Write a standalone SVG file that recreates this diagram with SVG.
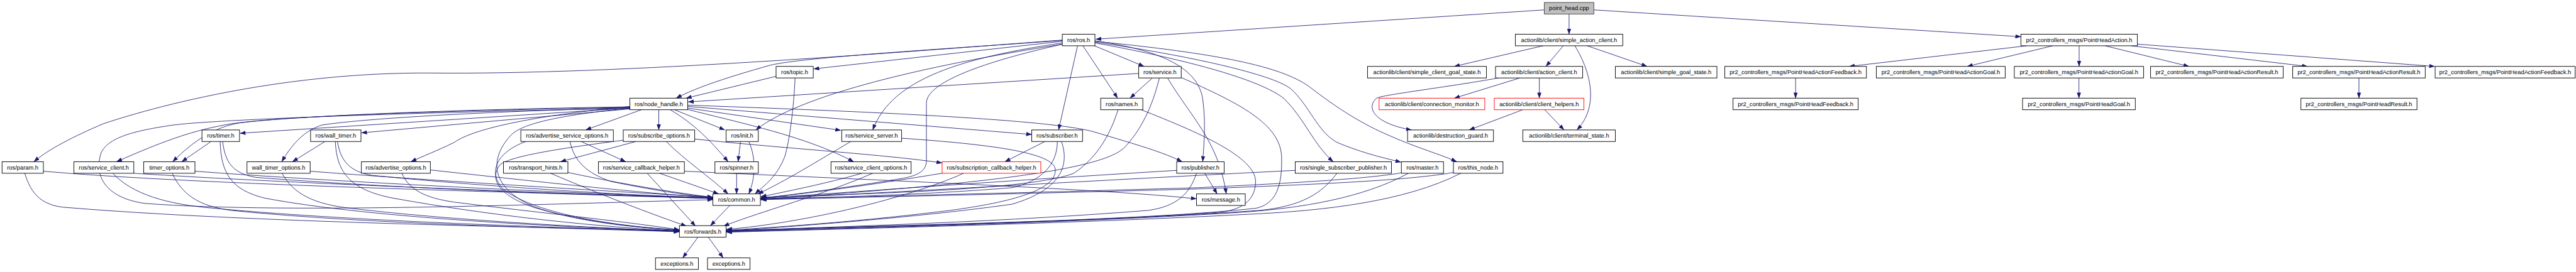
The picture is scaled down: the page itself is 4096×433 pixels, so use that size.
<svg xmlns="http://www.w3.org/2000/svg" width="4096" height="433" viewBox="0 0 4096 433">
<style>
.node rect{fill:#ffffff;stroke:#000000;stroke-width:1.4}
.node.red rect{stroke:#ff0000}
.node.root rect{fill:#bfbfbf;stroke:#404040}
.node text{font-family:"Liberation Sans",Arial,sans-serif;font-size:14.2px;fill:#000000;text-anchor:middle}
.edges path{fill:none;stroke:#191970;stroke-width:1.3;marker-end:url(#arr)}
</style>
<defs>
<marker id="arr" markerUnits="userSpaceOnUse" viewBox="0 0 14 10" markerWidth="14" markerHeight="10" refX="13.5" refY="5" orient="auto">
<path d="M0,0 L14,5 L0,10 z" fill="#191970"/>
</marker>
</defs>
<rect width="4096" height="433" fill="#ffffff"/>
<g transform="scale(0.656726)">
<g id="edges" class="edges">
<path d="M3739,24 L2653,95"/>
<path d="M3799,34 L3799,83"/>
<path d="M3859,24 L4893,89"/>
<path d="M3736,111 L3521,161"/>
<path d="M3785,111 L3743,161"/>
<path d="M3813,111 C3855,180 3870,260 3818,315"/>
<path d="M3843,111 L3988,161"/>
<path d="M3628,189 C3500,212 3345,230 3333,238 C3305,262 3330,300 3418,315"/>
<path d="M3680,189 L3521,238"/>
<path d="M3727,189 L3727,238"/>
<path d="M3687,266 L3557,315"/>
<path d="M3740,266 L3787,315"/>
<path d="M4907,111 L4477,161"/>
<path d="M4970,111 L4763,161"/>
<path d="M5034,111 L5034,161"/>
<path d="M5097,111 L5300,161"/>
<path d="M5160,111 L5587,161"/>
<path d="M5175,107 L5895,161"/>
<path d="M4347.5,189 L4347.5,238"/>
<path d="M5033.5,189 L5033.5,238"/>
<path d="M5711.5,189 L5711.5,238"/>
<path d="M2650,111 L2770,161"/>
<path d="M2622,111 L2706,238"/>
<path d="M2609,111 L2563,315"/>
<path d="M2573,104 C2330,140 2160,190 2113,315"/>
<path d="M2573,107 C2380,150 2243,200 2243,250 L2243,390 C2243,418 2215,428 2175,434 C2050,455 1900,474 1842,481"/>
<path d="M2573,107 C2300,150 1950,220 1830,315"/>
<path d="M2573,100 L1970,167"/>
<path d="M2573,98 C2300,118 1950,138 1865,158 C1770,185 1690,210 1637,238"/>
<path d="M2573,97 C2200,125 1500,182 1040,177 C700,175 400,250 250,300 C180,330 120,360 82,392"/>
<path d="M2651,99 C2800,120 2900,160 2912,240 C2920,300 2915,350 2912,392"/>
<path d="M2651,104 C2850,140 3050,190 3110,240 C3160,290 3180,350 3228,392"/>
<path d="M2651,102 C2880,135 3080,180 3125,215 C3170,255 3190,320 3237,345 C3300,372 3360,385 3392,393"/>
<path d="M2651,100 C2950,130 3100,160 3170,210 C3260,280 3320,310 3367,330 C3430,358 3490,375 3527,392"/>
<path d="M1879,185 L1661,238"/>
<path d="M1925,189 C1922,260 1912,340 1900,380 C1880,430 1850,450 1828,470"/>
<path d="M2757,178 L1666,247"/>
<path d="M2790,189 L2736,238"/>
<path d="M2827,189 C2880,280 2950,340 2969,470"/>
<path d="M2807,189 C2790,260 2760,320 2720,360 C2650,420 2300,450 1842,484"/>
<path d="M2860,188 C3000,250 3100,300 3103,380 C3105,450 3090,495 3040,505 C2700,540 2100,545 1759,561"/>
<path d="M2707,266 C2690,320 2660,380 2600,420 C2500,460 2100,470 1842,478"/>
<path d="M2763,266 C2900,320 3040,380 3040,440 C3040,490 3000,510 2950,515 C2600,540 2100,548 1759,559"/>
<path d="M1553,266 L1418,315"/>
<path d="M1595,266 L1595,315"/>
<path d="M1633,266 L1755,315"/>
<path d="M1623,266 C1680,300 1720,340 1763,392"/>
<path d="M1660,264 C1800,300 1950,330 2067,392"/>
<path d="M1665,262 L2036,316"/>
<path d="M1665,258 L2498,326"/>
<path d="M1665,255 C2100,270 2550,290 2650,320 C2750,350 2820,370 2862,392"/>
<path d="M1525,258 C1300,280 1150,310 1100,345 C1060,365 1020,380 995,392"/>
<path d="M1525,262 C1350,280 1260,300 1235,330 C1190,380 1180,450 1290,500 C1400,540 1550,552 1645,558"/>
<path d="M1525,262 L581,323"/>
<path d="M1525,264 L875,322"/>
<path d="M1525,260 C1100,268 700,280 560,300 C470,315 400,340 282,392"/>
<path d="M1525,259 C1100,265 700,282 580,298 C520,308 470,340 418,392"/>
<path d="M1525,261 C1200,270 900,285 780,303 C740,315 710,345 682,392"/>
<path d="M1525,263 C1000,272 520,290 420,303 C300,320 260,340 245,370 C225,430 260,480 350,493 C700,520 1400,492 1726,484"/>
<path d="M511,343 L440,392"/>
<path d="M539,343 C545,390 560,420 620,430 C1000,460 1500,475 1726,481"/>
<path d="M533,343 C535,420 560,460 640,480 C900,530 1400,552 1645,560"/>
<path d="M787,343 L708,392"/>
<path d="M817,343 C825,390 845,415 900,425 C1200,455 1550,474 1726,481"/>
<path d="M812,343 C815,420 850,460 950,480 C1200,525 1450,550 1645,560"/>
<path d="M105,415 C500,450 1400,470 1726,480"/>
<path d="M60,420 C75,470 100,495 150,502 C600,540 1300,550 1645,560"/>
<path d="M324,420 C700,445 1400,470 1726,481"/>
<path d="M273,420 C320,470 400,495 520,505 C900,540 1400,552 1645,561"/>
<path d="M472,415 C800,440 1400,470 1726,479"/>
<path d="M417,420 C440,470 480,500 560,510 C900,545 1400,553 1645,562"/>
<path d="M751,415 C1000,435 1500,465 1726,478"/>
<path d="M683,420 C710,470 760,495 850,505 C1100,535 1450,552 1645,561"/>
<path d="M1042,412 C1300,440 1550,468 1726,479"/>
<path d="M973,420 C990,460 1030,480 1100,490 C1300,515 1500,535 1645,557"/>
<path d="M1407,343 L1515,392"/>
<path d="M1380,343 C1390,390 1420,420 1480,440 C1600,465 1680,475 1726,478"/>
<path d="M1273,343 C1200,370 1180,420 1220,460 C1300,520 1500,550 1645,557"/>
<path d="M1540,343 L1357,392"/>
<path d="M1613,343 C1660,390 1720,430 1763,470"/>
<path d="M1682,337 C1900,360 2150,375 2281,395"/>
<path d="M1509,340 C1350,360 1230,380 1210,400 C1180,440 1220,480 1300,505 C1420,540 1560,552 1645,559"/>
<path d="M1375,418 C1500,445 1650,470 1726,478"/>
<path d="M1333,420 C1450,470 1580,520 1662,548"/>
<path d="M1597,420 L1740,470"/>
<path d="M1567,420 L1684,548"/>
<path d="M1657,415 C2200,440 2700,460 2897,482"/>
<path d="M1783.5,420 L1783.5,470"/>
<path d="M1793,343 L1787,392"/>
<path d="M1813,343 C1830,380 1830,430 1813,470"/>
<path d="M2087,420 C2000,445 1900,465 1842,477"/>
<path d="M2113,420 C2000,470 1850,510 1752,548"/>
<path d="M2183,335 C2400,350 2550,370 2555,410 C2560,460 2450,490 2300,510 C2100,535 1900,550 1759,558"/>
<path d="M2060,343 C1980,390 1900,440 1835,470"/>
<path d="M2530,343 L2433,392"/>
<path d="M2560,343 C2560,400 2520,440 2450,455 C2200,475 1950,480 1842,482"/>
<path d="M2570,343 C2590,400 2570,460 2450,495 C2200,530 1900,550 1759,560"/>
<path d="M2287,419 C2100,450 1950,470 1842,480"/>
<path d="M2333,420 C2200,480 1950,540 1759,556"/>
<path d="M2917,420 L2947,470"/>
<path d="M2849,413 C2400,440 2000,470 1842,481"/>
<path d="M2897,420 C2880,470 2850,500 2780,510 C2400,540 2000,550 1759,560"/>
<path d="M3136,413 C2600,440 2100,470 1842,482"/>
<path d="M3237,420 C3200,470 3150,500 3050,510 C2600,540 2100,550 1759,561"/>
<path d="M3393,419 C3300,435 3100,445 2900,455 C2400,470 2000,478 1842,483"/>
<path d="M3410,420 C3300,480 3150,505 3000,515 C2600,540 2100,552 1759,562"/>
<path d="M3519,418 C3400,440 3100,450 2900,458 C2400,472 2000,480 1842,484"/>
<path d="M3537,420 C3400,490 3200,510 3050,518 C2600,542 2100,553 1759,563"/>
<path d="M1767,498 L1720,547"/>
<path d="M1690,575 L1653,625"/>
<path d="M1715,575 L1751,625"/>
</g>
<g id="n_point_head" class="node root"><rect x="3739" y="6" width="120" height="28"/><text x="3799" y="25">point_head.cpp</text></g>
<g id="n_ros" class="node"><rect x="2572" y="83" width="79" height="28"/><text x="2611.5" y="102">ros/ros.h</text></g>
<g id="n_sac" class="node"><rect x="3669" y="83" width="260" height="28"/><text x="3799" y="102">actionlib/client/simple_action_client.h</text></g>
<g id="n_pha" class="node"><rect x="4893" y="83" width="282" height="28"/><text x="5034" y="102">pr2_controllers_msgs/PointHeadAction.h</text></g>
<g id="n_topic" class="node"><rect x="1879" y="161" width="90" height="28"/><text x="1924" y="180">ros/topic.h</text></g>
<g id="n_service" class="node"><rect x="2757" y="161" width="103" height="28"/><text x="2808.5" y="180">ros/service.h</text></g>
<g id="n_scgs" class="node"><rect x="3311" y="161" width="288" height="28"/><text x="3455" y="180">actionlib/client/simple_client_goal_state.h</text></g>
<g id="n_ac" class="node"><rect x="3621" y="161" width="211" height="28"/><text x="3726.5" y="180">actionlib/client/action_client.h</text></g>
<g id="n_sgs" class="node"><rect x="3911" y="161" width="246" height="28"/><text x="4034" y="180">actionlib/client/simple_goal_state.h</text></g>
<g id="n_phaf1" class="node"><rect x="4176" y="161" width="343" height="28"/><text x="4347.5" y="180">pr2_controllers_msgs/PointHeadActionFeedback.h</text></g>
<g id="n_phag1" class="node"><rect x="4543" y="161" width="312" height="28"/><text x="4699" y="180">pr2_controllers_msgs/PointHeadActionGoal.h</text></g>
<g id="n_phag2" class="node"><rect x="4877" y="161" width="313" height="28"/><text x="5033.5" y="180">pr2_controllers_msgs/PointHeadActionGoal.h</text></g>
<g id="n_phar1" class="node"><rect x="5207" y="161" width="321" height="28"/><text x="5367.5" y="180">pr2_controllers_msgs/PointHeadActionResult.h</text></g>
<g id="n_phar2" class="node"><rect x="5551" y="161" width="321" height="28"/><text x="5711.5" y="180">pr2_controllers_msgs/PointHeadActionResult.h</text></g>
<g id="n_phaf2" class="node"><rect x="5896" y="161" width="339" height="28"/><text x="6065.5" y="180">pr2_controllers_msgs/PointHeadActionFeedback.h</text></g>
<g id="n_node_handle" class="node"><rect x="1525" y="238" width="140" height="28"/><text x="1595" y="257">ros/node_handle.h</text></g>
<g id="n_names" class="node"><rect x="2665" y="238" width="102" height="28"/><text x="2716" y="257">ros/names.h</text></g>
<g id="n_cm" class="node red"><rect x="3339" y="238" width="256" height="28"/><text x="3467" y="257">actionlib/client/connection_monitor.h</text></g>
<g id="n_ch" class="node red"><rect x="3618" y="238" width="217" height="28"/><text x="3726.5" y="257">actionlib/client/client_helpers.h</text></g>
<g id="n_phf" class="node"><rect x="4196" y="238" width="303" height="28"/><text x="4347.5" y="257">pr2_controllers_msgs/PointHeadFeedback.h</text></g>
<g id="n_phg" class="node"><rect x="4897" y="238" width="273" height="28"/><text x="5033.5" y="257">pr2_controllers_msgs/PointHeadGoal.h</text></g>
<g id="n_phr" class="node"><rect x="5571" y="238" width="281" height="28"/><text x="5711.5" y="257">pr2_controllers_msgs/PointHeadResult.h</text></g>
<g id="n_timer" class="node"><rect x="489" y="315" width="91" height="28"/><text x="534.5" y="334">ros/timer.h</text></g>
<g id="n_wall_timer" class="node"><rect x="752" y="315" width="122" height="28"/><text x="813" y="334">ros/wall_timer.h</text></g>
<g id="n_aso" class="node"><rect x="1261" y="315" width="224" height="28"/><text x="1373" y="334">ros/advertise_service_options.h</text></g>
<g id="n_so" class="node"><rect x="1509" y="315" width="173" height="28"/><text x="1595.5" y="334">ros/subscribe_options.h</text></g>
<g id="n_init" class="node"><rect x="1758" y="315" width="78" height="28"/><text x="1797" y="334">ros/init.h</text></g>
<g id="n_ss" class="node"><rect x="2038" y="315" width="145" height="28"/><text x="2110.5" y="334">ros/service_server.h</text></g>
<g id="n_sub" class="node"><rect x="2498" y="315" width="123" height="28"/><text x="2559.5" y="334">ros/subscriber.h</text></g>
<g id="n_dg" class="node"><rect x="3408" y="315" width="208" height="28"/><text x="3512" y="334">actionlib/destruction_guard.h</text></g>
<g id="n_ts" class="node"><rect x="3687" y="315" width="224" height="28"/><text x="3799" y="334">actionlib/client/terminal_state.h</text></g>
<g id="n_param" class="node"><rect x="5" y="392" width="100" height="28"/><text x="55" y="411">ros/param.h</text></g>
<g id="n_sc" class="node"><rect x="179" y="392" width="145" height="28"/><text x="251.5" y="411">ros/service_client.h</text></g>
<g id="n_to" class="node"><rect x="348" y="392" width="124" height="28"/><text x="410" y="411">timer_options.h</text></g>
<g id="n_wto" class="node"><rect x="598" y="392" width="153" height="28"/><text x="674.5" y="411">wall_timer_options.h</text></g>
<g id="n_ao" class="node"><rect x="875" y="392" width="167" height="28"/><text x="958.5" y="411">ros/advertise_options.h</text></g>
<g id="n_th" class="node"><rect x="1219" y="392" width="156" height="28"/><text x="1297" y="411">ros/transport_hints.h</text></g>
<g id="n_sch" class="node"><rect x="1449" y="392" width="208" height="28"/><text x="1553" y="411">ros/service_callback_helper.h</text></g>
<g id="n_spinner" class="node"><rect x="1731" y="392" width="105" height="28"/><text x="1783.5" y="411">ros/spinner.h</text></g>
<g id="n_sco" class="node"><rect x="2012" y="392" width="194" height="28"/><text x="2109" y="411">ros/service_client_options.h</text></g>
<g id="n_subch" class="node red"><rect x="2281" y="392" width="239" height="28"/><text x="2400.5" y="411">ros/subscription_callback_helper.h</text></g>
<g id="n_pub" class="node"><rect x="2849" y="392" width="115" height="28"/><text x="2906.5" y="411">ros/publisher.h</text></g>
<g id="n_ssp" class="node"><rect x="3136" y="392" width="233" height="28"/><text x="3252.5" y="411">ros/single_subscriber_publisher.h</text></g>
<g id="n_master" class="node"><rect x="3393" y="392" width="102" height="28"/><text x="3444" y="411">ros/master.h</text></g>
<g id="n_this_node" class="node"><rect x="3519" y="392" width="120" height="28"/><text x="3579" y="411">ros/this_node.h</text></g>
<g id="n_common" class="node"><rect x="1726" y="470" width="115" height="28"/><text x="1783.5" y="489">ros/common.h</text></g>
<g id="n_message" class="node"><rect x="2897" y="470" width="118" height="28"/><text x="2956" y="489">ros/message.h</text></g>
<g id="n_forwards" class="node"><rect x="1645" y="547" width="113" height="28"/><text x="1701.5" y="566">ros/forwards.h</text></g>
<g id="n_exceptions1" class="node"><rect x="1587" y="625" width="104" height="28"/><text x="1639" y="644">exceptions.h</text></g>
<g id="n_exceptions2" class="node"><rect x="1713" y="625" width="103" height="28"/><text x="1764.5" y="644">exceptions.h</text></g>
</g>
</svg>
